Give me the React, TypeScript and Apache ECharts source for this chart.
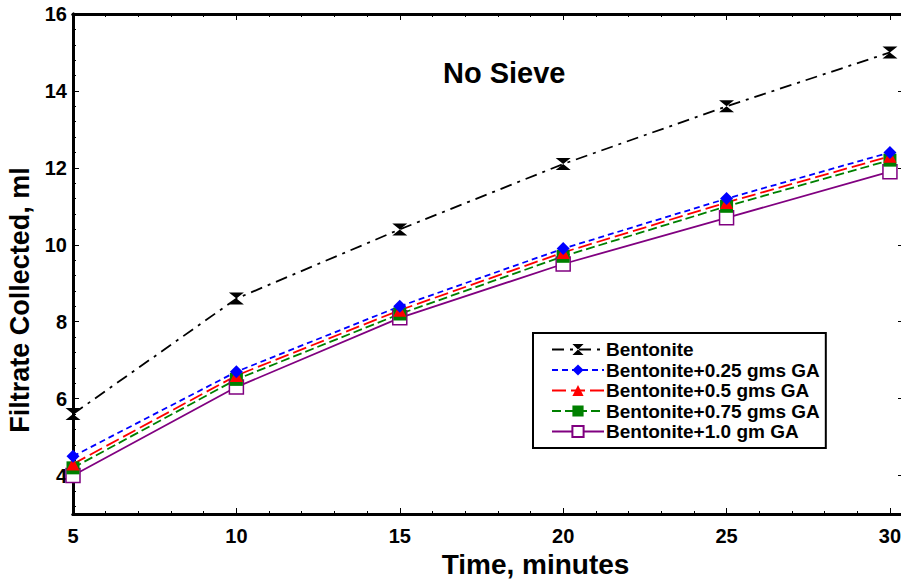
import React, { useEffect, useRef } from "react";
import * as echarts from "echarts";

const times = [5, 10, 15, 20, 25, 30];
const bentonite = [5.6, 8.6, 10.4, 12.1, 13.6, 15.0];
const ga025 = [4.5, 6.7, 8.4, 9.9, 11.2, 12.4];
const ga05 = [4.3, 6.6, 8.3, 9.8, 11.1, 12.3];
const ga075 = [4.2, 6.5, 8.2, 9.7, 11.0, 12.2];
const ga10 = [4.0, 6.3, 8.1, 9.5, 10.7, 11.9];

const xMajor = [5, 10, 15, 20, 25, 30];
const yMajor = [4, 6, 8, 10, 12, 14, 16];

const xMinor: number[] = [];
for (let i = 6; i <= 30; i++) if (i % 5 !== 0) xMinor.push(i);
const yMinor: number[] = [];
for (let i = 8; i <= 40; i++) {
  const v = Math.round(i * 4) / 10;
  if (Math.round(v * 10) % 20 !== 0) yMinor.push(v);
}

const FONT = "'Liberation Sans', Arial, sans-serif";

export default function App() {
  const ref = useRef<HTMLDivElement>(null);
  useEffect(() => {
    if (!ref.current) return;
    const chart = echarts.init(ref.current, null, { renderer: "svg" });
    const xMin = 5, xMax = 30.43, yMin = 3, yMax = 16;
    const axisLine = { show: true, lineStyle: { color: "#000", width: 3 } };
    const mkX = (pos: string, major: boolean, labels: boolean, name?: string) => ({
      type: "value",
      min: xMin,
      max: xMax,
      position: pos,
      axisLine: axisLine,
      splitLine: { show: false },
      axisTick: {
        show: true,
        inside: true,
        length: major ? 6 : 3,
        lineStyle: { color: "#000", width: 1 },
        customValues: major ? xMajor : xMinor,
      },
      axisLabel: labels
        ? { show: true, customValues: xMajor, margin: 12, color: "#000", fontFamily: FONT, fontWeight: "bold", fontSize: 20 }
        : { show: false },
      name: name,
      nameLocation: "middle",
      nameGap: 30,
      nameTextStyle: { color: "#000", fontFamily: FONT, fontWeight: "bold", fontSize: 28, padding: [0, 0, 0, 94] },
    });
    const mkY = (pos: string, major: boolean, labels: boolean, name?: string) => ({
      type: "value",
      min: yMin,
      max: yMax,
      position: pos,
      axisLine: axisLine,
      splitLine: { show: false },
      axisTick: {
        show: true,
        inside: true,
        length: major ? 6 : 3,
        lineStyle: { color: "#000", width: 1 },
        customValues: major ? yMajor : yMinor,
      },
      axisLabel: labels
        ? { show: true, customValues: yMajor, margin: 6, color: "#000", fontFamily: FONT, fontWeight: "bold", fontSize: 20 }
        : { show: false },
      name: name,
      nameLocation: "middle",
      nameGap: 35,
      nameTextStyle: { color: "#000", fontFamily: FONT, fontWeight: "bold", fontSize: 27, padding: [0, 72, 0, 0] },
    });
    const pairs = (vals: number[]) => times.map((t, i) => [t, vals[i]]);
    const base = {
      type: "line",
      xAxisIndex: 0,
      yAxisIndex: 0,
      clip: false,
      z: 5,
    };
    chart.setOption({
      animation: false,
      backgroundColor: "#fff",
      grid: { left: 73, right: -3, top: 14, bottom: 65, outerBoundsMode: "none", containLabel: false },
      title: {
        text: "No Sieve",
        left: 443,
        top: 58,
        padding: 0,
        textStyle: { color: "#000", fontFamily: FONT, fontWeight: "bold", fontSize: 29 },
      },
      legend: {
        orient: "vertical",
        left: 533,
        top: 333,
        padding: [7, 6, 7, 18],
        itemWidth: 52,
        itemHeight: 14,
        itemGap: 1.5,
        borderColor: "#000",
        borderWidth: 2,
        backgroundColor: "#fff",
        textStyle: { color: "#000", fontFamily: FONT, fontWeight: "bold", fontSize: 19, padding: [0, 0, 0, -3] },
        data: [
          "Bentonite",
          "Bentonite+0.25 gms GA",
          "Bentonite+0.5 gms GA",
          "Bentonite+0.75 gms GA",
          "Bentonite+1.0 gm GA",
        ],
      },
      xAxis: [
        mkX("bottom", true, true, "Time, minutes"),
        mkX("bottom", false, false),
        mkX("top", true, false),
        mkX("top", false, false),
      ],
      yAxis: [
        mkY("left", true, true, "Filtrate Collected, ml"),
        mkY("left", false, false),
        mkY("right", true, false),
        mkY("right", false, false),
      ],
      series: [
        {
          ...base,
          name: "Bentonite+1.0 gm GA",
          data: pairs(ga10),
          symbol: "rect",
          symbolSize: 14,
          lineStyle: { color: "#800080", width: 1.8, type: "solid" },
          itemStyle: { color: "#fff", borderColor: "#800080", borderWidth: 1.5 },
        },
        {
          ...base,
          name: "Bentonite+0.75 gms GA",
          data: pairs(ga075),
          symbol: "rect",
          symbolSize: 13,
          lineStyle: { color: "#008000", width: 1.8, type: [9, 4] },
          itemStyle: { color: "#008000" },
        },
        {
          ...base,
          name: "Bentonite+0.5 gms GA",
          data: pairs(ga05),
          symbol: "triangle",
          symbolSize: 13,
          lineStyle: { color: "#ff0000", width: 1.8, type: [14, 5] },
          itemStyle: { color: "#ff0000" },
        },
        {
          ...base,
          name: "Bentonite+0.25 gms GA",
          data: pairs(ga025),
          symbol: "diamond",
          symbolSize: 13,
          lineStyle: { color: "#0000ff", width: 1.8, type: [6, 4] },
          itemStyle: { color: "#0000ff" },
        },
        {
          ...base,
          name: "Bentonite",
          data: pairs(bentonite),
          symbol: "path://M0,0L10,0L5,5L10,10L0,10L5,5Z",
          symbolSize: [15, 12],
          lineStyle: { color: "#000", width: 1.8, type: [12, 6, 3, 6] },
          itemStyle: { color: "#000" },
        },
      ],
    });
    return () => chart.dispose();
  }, []);
  return (
    <div
      ref={ref}
      style={{ position: "fixed", left: 0, top: 0, width: 901, height: 579 }}
    />
  );
}
